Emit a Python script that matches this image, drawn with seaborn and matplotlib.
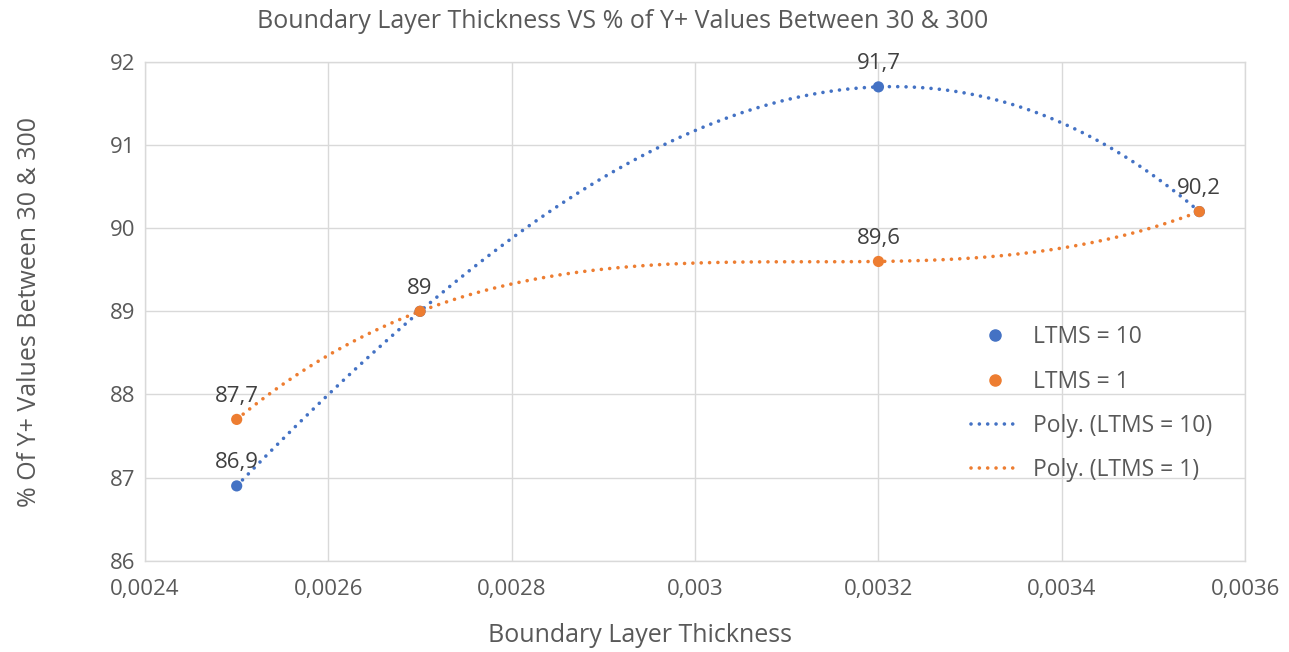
import matplotlib

matplotlib.use("Agg")
import matplotlib.pyplot as plt
import pandas as pd
import seaborn as sns
from matplotlib.lines import Line2D
from matplotlib.ticker import FuncFormatter

# Data
thickness_ltms10 = [0.0025, 0.0027, 0.0032, 0.00355]
yplus_ltms10 = [86.9, 89.0, 91.7, 90.2]
thickness_ltms1 = [0.0025, 0.0027, 0.0032, 0.00355]
yplus_ltms1 = [87.7, 89.0, 89.6, 90.2]
labels_ltms10 = ["86,9", "", "91,7", "90,2"]
labels_ltms1 = ["87,7", "89", "89,6", ""]

BLUE = "#4472C4"
ORANGE = "#ED7D31"
TEXT = "#595959"
GRID = "#D9D9D9"
DOTS = (0, (0.01, 2.3))

sns.set_theme(style="white")
plt.rcParams["font.family"] = ["Open Sans", "DejaVu Sans"]

df10 = pd.DataFrame({"x": thickness_ltms10, "y": yplus_ltms10})
df1 = pd.DataFrame({"x": thickness_ltms1, "y": yplus_ltms1})

fig, ax = plt.subplots(figsize=(12.89, 6.52), dpi=100)
fig.subplots_adjust(left=0.1125, right=0.966, top=0.905, bottom=0.14)

# Polynomial trendlines (order 3)
for df, color in [(df10, BLUE), (df1, ORANGE)]:
    sns.regplot(
        data=df, x="x", y="y", order=3, ci=None, scatter=False, ax=ax,
        line_kws={"color": color, "linestyle": DOTS, "linewidth": 2.6,
                  "dash_capstyle": "round"},
    )

sns.scatterplot(data=df10, x="x", y="y", color=BLUE, s=65, edgecolor="none",
                ax=ax, zorder=5)
sns.scatterplot(data=df1, x="x", y="y", color=ORANGE, s=65, edgecolor="none",
                ax=ax, zorder=6)

for xs, ys, labs in [(thickness_ltms10, yplus_ltms10, labels_ltms10),
                     (thickness_ltms1, yplus_ltms1, labels_ltms1)]:
    for x, y, lab in zip(xs, ys, labs):
        if lab:
            ax.annotate(lab, (x, y), xytext=(0, 9), textcoords="offset points",
                        ha="center", va="bottom", fontsize=16, color="#404040")

ax.set_xlim(0.0024, 0.0036)
ax.set_ylim(86, 92)
ax.set_xticks([0.0024, 0.0026, 0.0028, 0.0030, 0.0032, 0.0034, 0.0036])
ax.set_yticks(range(86, 93))
ax.xaxis.set_major_formatter(FuncFormatter(lambda v, p: f"{v:.4f}".rstrip("0").replace(".", ",")))
ax.grid(True, color=GRID, linewidth=1)
for side in ax.spines.values():
    side.set_color(GRID)
    side.set_linewidth(1)
ax.tick_params(colors=TEXT, labelsize=16, length=0)
ax.tick_params(axis="x", pad=13)
ax.tick_params(axis="y", pad=7)

ax.set_xlabel("")
ax.set_ylabel("")
fig.text(640 / 1289, 1 - 636 / 652, "Boundary Layer Thickness", fontsize=18,
         color=TEXT, ha="center", va="center")
fig.text(30 / 1289, 1 - 312 / 652, "% Of Y+ Values Between 30 & 300", fontsize=18,
         color=TEXT, ha="center", va="center", rotation=90)
fig.text(623 / 1289, 1 - 22 / 652,
         "Boundary Layer Thickness VS % of Y+ Values Between 30 & 300",
         fontsize=18, color=TEXT, ha="center", va="center")

handles = [
    Line2D([], [], marker="o", linestyle="none", color=BLUE, markersize=8),
    Line2D([], [], marker="o", linestyle="none", color=ORANGE, markersize=8),
    Line2D([], [], color=BLUE, linestyle=DOTS, linewidth=2.6, dash_capstyle="round"),
    Line2D([], [], color=ORANGE, linestyle=DOTS, linewidth=2.6, dash_capstyle="round"),
]
leg = ax.legend(handles, ["LTMS = 10", "LTMS = 1", "Poly. (LTMS = 10)", "Poly. (LTMS = 1)"],
                loc="center left", bbox_to_anchor=(0.732, 0.315), frameon=False,
                fontsize=16.5, labelspacing=0.88, handlelength=2.1, handletextpad=0.6)
for t in leg.get_texts():
    t.set_color(TEXT)

fig.savefig("out.png", dpi=100)
